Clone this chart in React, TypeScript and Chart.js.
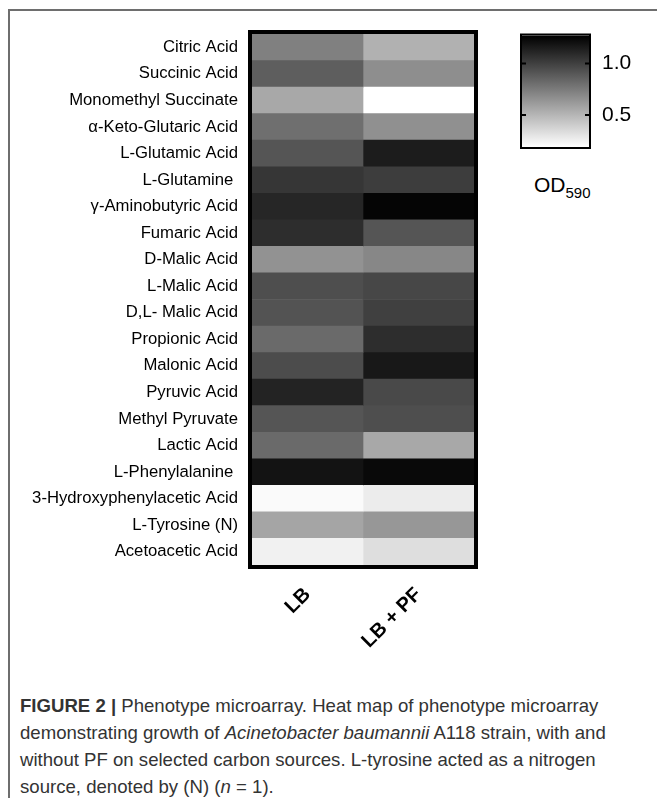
import React, { useEffect, useRef } from "react";
import { Chart, registerables } from "chart.js";

Chart.register(...registerables);

const substrates = [
  "Citric Acid",
  "Succinic Acid",
  "Monomethyl Succinate",
  "α-Keto-Glutaric Acid",
  "L-Glutamic Acid",
  "L-Glutamine ",
  "γ-Aminobutyric Acid",
  "Fumaric Acid",
  "D-Malic Acid",
  "L-Malic Acid",
  "D,L- Malic Acid",
  "Propionic Acid",
  "Malonic Acid",
  "Pyruvic Acid",
  "Methyl Pyruvate",
  "Lactic Acid",
  "L-Phenylalanine ",
  "3-Hydroxyphenylacetic Acid",
  "L-Tyrosine (N)",
  "Acetoacetic Acid",
];

const columns = ["LB", "LB + PF"];

const lbValues = [
  0.73, 0.87, 0.56, 0.8, 0.91, 1.04, 1.11, 1.08, 0.65, 0.94,
  0.92, 0.82, 0.95, 1.12, 0.91, 0.82, 1.19, 0.21, 0.57, 0.25,
];

const lbPfValues = [
  0.52, 0.67, 0.19, 0.66, 1.15, 1.01, 1.25, 0.91, 0.7, 0.97,
  1.0, 1.08, 1.17, 0.96, 0.94, 0.56, 1.23, 0.27, 0.63, 0.33,
];

const colorbarTicks = [0.5, 1.0];
const scaleMin = 0.19;
const scaleMax = 1.27;

const FONT = "'Liberation Sans', Arial, Helvetica, sans-serif";

function grayFor(v: number): string {
  let t = (scaleMax - v) / (scaleMax - scaleMin);
  t = Math.max(0, Math.min(1, t));
  const g = Math.round(255 * t);
  return `rgb(${g},${g},${g})`;
}

function zeroPadding(axis: any) {
  axis.paddingTop = 0;
  axis.paddingBottom = 0;
  axis.paddingLeft = 0;
  axis.paddingRight = 0;
}

const heatBoxPlugin = {
  id: "heatBox",
  afterDatasetsDraw(chart: any) {
    const { ctx, chartArea } = chart;
    ctx.save();
    ctx.strokeStyle = "#000";
    ctx.lineWidth = 4;
    ctx.strokeRect(
      chartArea.left - 2,
      chartArea.top - 2,
      chartArea.right - chartArea.left + 4,
      chartArea.bottom - chartArea.top + 4
    );
    ctx.restore();
  },
};

const colorbarPlugin = {
  id: "colorbarFrame",
  afterDatasetsDraw(chart: any) {
    const { ctx, chartArea } = chart;
    const y = chart.scales.y;
    ctx.save();
    ctx.strokeStyle = "#000";
    ctx.lineWidth = 2;
    ctx.strokeRect(
      chartArea.left - 1,
      chartArea.top - 1,
      chartArea.right - chartArea.left + 2,
      chartArea.bottom - chartArea.top + 2
    );
    colorbarTicks.forEach((v) => {
      const py = y.getPixelForValue(v);
      ctx.beginPath();
      ctx.moveTo(chartArea.left, py);
      ctx.lineTo(chartArea.left + 4, py);
      ctx.moveTo(chartArea.right, py);
      ctx.lineTo(chartArea.right - 4, py);
      ctx.stroke();
    });
    ctx.restore();
  },
};

export default function App() {
  const heatRef = useRef<HTMLCanvasElement>(null);
  const barRef = useRef<HTMLCanvasElement>(null);

  useEffect(() => {
    const heat = new Chart(heatRef.current as HTMLCanvasElement, {
      type: "bar",
      data: {
        labels: substrates,
        datasets: [
          {
            label: columns[0],
            data: lbValues.map(() => [0, 1]) as any,
            backgroundColor: lbValues.map(grayFor),
            grouped: false,
            barPercentage: 1,
            categoryPercentage: 1,
            borderWidth: 0,
          } as any,
          {
            label: columns[1],
            data: lbPfValues.map(() => [1, 2]) as any,
            backgroundColor: lbPfValues.map(grayFor),
            grouped: false,
            barPercentage: 1,
            categoryPercentage: 1,
            borderWidth: 0,
          } as any,
        ],
      },
      options: {
        indexAxis: "y",
        animation: false,
        responsive: false,
        layout: { padding: { top: 14, right: 10, left: 0, bottom: 0 } },
        plugins: { legend: { display: false }, tooltip: { enabled: false } },
        scales: {
          x: {
            type: "linear",
            min: 0,
            max: 2,
            grid: { display: false, drawTicks: false },
            border: { display: false },
            afterBuildTicks: (axis: any) => {
              axis.ticks = [{ value: 0.5 }, { value: 1.5 }];
            },
            afterFit: (axis: any) => {
              axis.height = 120;
              zeroPadding(axis);
            },
            ticks: {
              autoSkip: false,
              maxRotation: 45,
              minRotation: 45,
              padding: 18,
              color: "#000",
              font: { family: FONT, size: 20, weight: "bold" },
              callback: (_v: any, i: number) => columns[i],
            },
          } as any,
          y: {
            type: "category",
            grid: { display: false, drawTicks: false },
            border: { display: false },
            afterFit: (axis: any) => {
              axis.width = 232;
              zeroPadding(axis);
            },
            ticks: {
              autoSkip: false,
              padding: 14,
              color: "#000",
              font: { family: FONT, size: 16.7 },
            },
          } as any,
        },
      },
      plugins: [heatBoxPlugin],
    });

    const bar = new Chart(barRef.current as HTMLCanvasElement, {
      type: "bar",
      data: {
        labels: ["OD590"],
        datasets: [
          {
            label: "OD590",
            data: [[scaleMin, scaleMax]] as any,
            barPercentage: 1,
            categoryPercentage: 1,
            borderWidth: 0,
            backgroundColor: (c: any) => {
              const chart = c.chart;
              const ys = chart.scales && chart.scales.y;
              if (!chart.chartArea || !ys) return "#888";
              const g = chart.ctx.createLinearGradient(
                0,
                ys.getPixelForValue(scaleMin),
                0,
                ys.getPixelForValue(scaleMax)
              );
              g.addColorStop(0, grayFor(scaleMin));
              g.addColorStop(1, grayFor(scaleMax));
              return g;
            },
          } as any,
        ],
      },
      options: {
        animation: false,
        responsive: false,
        layout: { padding: { top: 15.5, left: 22, right: 0, bottom: 13 } },
        plugins: { legend: { display: false }, tooltip: { enabled: false } },
        scales: {
          x: { display: false },
          y: {
            type: "linear",
            position: "right",
            min: scaleMin,
            max: scaleMax,
            grid: { display: false, drawTicks: false },
            border: { display: false },
            afterBuildTicks: (axis: any) => {
              axis.ticks = colorbarTicks.map((v) => ({ value: v }));
            },
            afterFit: (axis: any) => {
              axis.width = 68;
              zeroPadding(axis);
            },
            ticks: {
              padding: 13,
              color: "#000",
              font: { family: FONT, size: 21 },
              callback: (v: any) => Number(v).toFixed(1),
            },
          } as any,
        },
      },
      plugins: [colorbarPlugin],
    });

    return () => {
      heat.destroy();
      bar.destroy();
    };
  }, []);

  return (
    <div
      style={{
        position: "fixed",
        left: 0,
        top: 0,
        width: 657,
        height: 798,
        overflow: "hidden",
        background: "#fff",
        fontFamily: FONT,
      }}
    >
      <div
        style={{
          position: "absolute",
          left: 8,
          top: 9,
          width: 660,
          height: 800,
          borderTop: "2px solid #6e6e6e",
          borderLeft: "2px solid #6e6e6e",
        }}
      />
      <canvas
        ref={heatRef}
        width={464}
        height={665}
        style={{ position: "absolute", left: 20, top: 20, width: 464, height: 665 }}
      />
      <canvas
        ref={barRef}
        width={157}
        height={140}
        style={{ position: "absolute", left: 500, top: 20, width: 157, height: 140 }}
      />
      <div
        style={{
          position: "absolute",
          left: 534,
          top: 173,
          fontSize: 21,
          color: "#000",
          whiteSpace: "nowrap",
          lineHeight: "24px",
        }}
      >
        OD
        <span style={{ fontSize: 15, position: "relative", top: 6 }}>590</span>
      </div>
      <div
        style={{
          position: "absolute",
          left: 20,
          top: 692,
          fontSize: 18.6,
          lineHeight: "27px",
          color: "#333",
          whiteSpace: "nowrap",
        }}
      >
        <b>FIGURE 2 |</b> Phenotype microarray. Heat map of phenotype microarray
        <br />
        demonstrating growth of <i>Acinetobacter baumannii</i> A118 strain, with and
        <br />
        without PF on selected carbon sources. L-tyrosine acted as a nitrogen
        <br />
        source, denoted by (N) (<i>n</i> = 1).
      </div>
    </div>
  );
}
